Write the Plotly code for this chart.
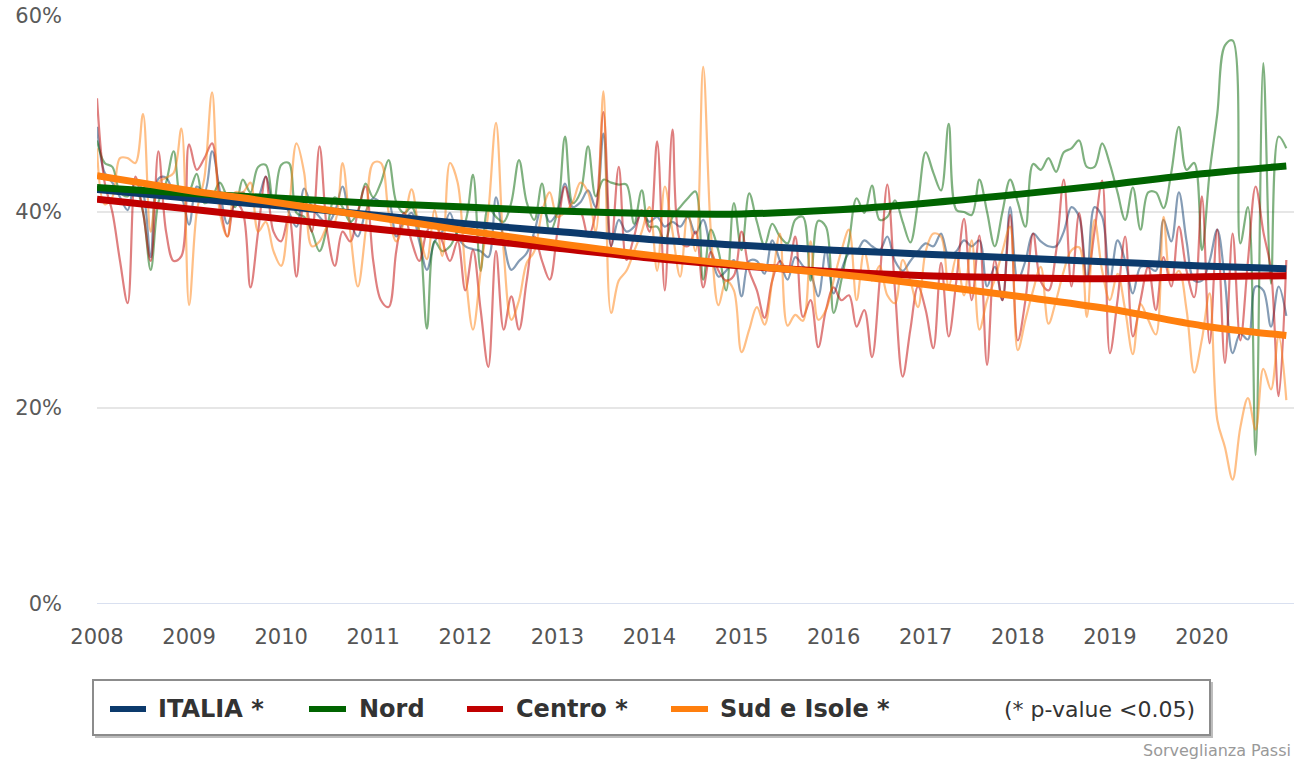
import plotly.graph_objects as go

# ---------------- data (percent, monthly Jan 2008 - Dec 2020) ----------------
start_year = 2008
n_months = 156

italia = [48.7, 44.0, 43.0, 41.5, 40.2, 43.3, 42.0, 35.4, 43.4, 43.5, 42.0, 41.5,
          38.7, 42.6, 42.0, 46.2, 42.2, 38.8, 41.0, 42.0, 41.0, 41.5, 43.6, 40.9,
          41.5, 40.0, 38.5, 42.4, 40.5, 39.5, 38.8, 40.0, 42.6, 39.0, 37.5, 40.0,
          41.4, 41.0, 41.0, 37.5, 39.0, 39.9, 37.0, 34.1, 37.0, 38.0, 39.9, 37.5,
          36.5, 36.2, 36.0, 35.4, 41.5, 37.0, 34.1, 35.0, 35.8, 38.0, 40.5, 39.0,
          40.0, 42.9, 40.5, 41.0, 42.2, 40.5, 48.0, 36.5, 39.2, 38.0, 38.5, 39.9,
          39.0, 39.5, 38.5, 39.0, 38.5, 39.5, 37.8, 39.2, 36.0, 33.4, 34.0, 35.1,
          31.4, 35.0, 35.0, 33.7, 37.1, 35.0, 33.1, 35.4, 34.5, 33.7, 31.4, 36.0,
          31.7, 34.0, 35.8, 36.0, 37.1, 36.5, 36.1, 37.5, 35.0, 34.0, 35.0, 36.0,
          36.8, 36.5, 37.8, 35.5, 36.0, 37.1, 36.5, 37.1, 32.4, 34.4, 31.0, 40.5,
          33.1, 35.0, 37.8, 37.0, 36.5, 36.5, 38.0, 40.5, 39.5, 33.0, 40.5, 39.5,
          33.0, 37.1, 35.0, 31.7, 34.4, 34.4, 34.0, 39.2, 37.0, 42.0, 37.0, 33.0,
          33.0, 35.0, 38.2, 33.0, 25.6, 27.6, 27.0, 32.4, 32.0, 28.3, 32.4, 29.4]

nord = [47.3, 45.0, 44.6, 42.0, 41.6, 42.5, 40.0, 34.1, 41.0, 43.0, 46.2, 41.2,
        42.0, 43.9, 40.9, 41.5, 43.0, 41.5, 40.5, 43.3, 42.0, 44.6, 44.8, 40.5,
        44.8, 45.0, 39.9, 39.5, 38.0, 36.0, 38.5, 41.5, 40.5, 39.0, 40.0, 42.9,
        41.5, 43.0, 45.3, 41.0, 39.9, 40.5, 38.0, 28.1, 37.0, 36.0, 36.5, 38.0,
        39.0, 43.8, 34.0, 40.5, 39.5, 39.0, 41.0, 45.3, 41.0, 39.2, 42.9, 38.0,
        40.0, 47.7, 40.9, 42.0, 46.7, 41.6, 43.3, 43.0, 42.8, 42.8, 38.8, 42.2,
        38.5, 38.5, 37.0, 39.5, 40.5, 41.4, 42.1, 33.1, 38.2, 36.0, 32.0, 40.9,
        36.1, 41.9, 39.0, 36.6, 38.8, 37.5, 36.8, 39.2, 39.5, 33.0, 39.1, 38.5,
        29.7, 33.0, 37.0, 41.4, 39.9, 42.7, 39.2, 39.5, 41.2, 39.0, 36.9, 41.0,
        46.1, 44.0, 42.2, 49.0, 40.2, 40.0, 39.7, 43.3, 40.0, 36.5, 40.0, 43.3,
        41.0, 38.5, 44.9, 44.3, 45.5, 44.1, 46.1, 46.5, 47.3, 44.6, 44.6, 47.0,
        44.9, 42.0, 39.2, 42.5, 38.2, 42.0, 42.0, 40.4, 44.0, 48.7, 44.3, 45.0,
        36.1, 44.0, 50.0, 57.0, 57.5, 36.8, 40.5, 15.2, 55.2, 32.7, 47.7, 46.5]

centro = [51.6, 43.0, 40.0, 35.0, 30.7, 43.6, 40.0, 35.0, 46.2, 38.0, 35.0, 35.5,
          46.9, 44.3, 45.5, 47.0, 41.0, 37.5, 41.0, 40.0, 32.3, 38.0, 43.6, 38.0,
          37.0, 39.6, 33.4, 41.5, 38.0, 46.7, 38.0, 34.5, 38.0, 37.0, 40.0, 42.6,
          35.0, 31.0, 30.3, 36.0, 39.9, 37.0, 35.0, 38.0, 39.0, 37.0, 35.0, 37.0,
          32.0, 36.1, 30.0, 24.2, 36.0, 28.0, 31.4, 28.0, 33.0, 37.5, 35.0, 33.1,
          38.0, 42.6, 40.0, 40.0, 37.5, 40.0, 50.2, 36.5, 44.6, 35.1, 37.5, 40.2,
          38.0, 47.2, 32.0, 48.4, 37.1, 36.5, 38.0, 32.3, 35.9, 34.0, 33.0, 33.5,
          38.0, 34.0, 32.0, 29.2, 33.0, 35.0, 34.0, 37.5, 29.3, 31.0, 26.2, 30.0,
          32.3, 31.0, 31.5, 28.3, 30.0, 25.2, 33.0, 42.8, 32.0, 23.2, 28.0, 32.4,
          30.0, 26.1, 34.8, 27.3, 33.0, 39.3, 31.0, 37.6, 24.4, 35.1, 31.0, 39.7,
          26.9, 31.0, 37.8, 32.9, 32.0, 36.0, 43.3, 32.4, 39.9, 33.0, 38.0, 43.2,
          25.6, 31.0, 37.5, 27.3, 31.0, 34.4, 30.0, 35.4, 32.4, 38.5, 34.0, 31.3,
          41.6, 26.6, 38.2, 24.6, 37.8, 26.9, 35.0, 42.6, 38.0, 34.1, 21.2, 35.1]

sud = [46.5, 40.8, 41.5, 45.5, 45.5, 45.0, 50.0, 38.0, 43.0, 43.5, 44.0, 48.5,
       30.5, 40.0, 43.5, 52.2, 40.0, 37.5, 42.0, 42.0, 43.0, 38.0, 39.0, 36.0,
       34.5, 40.0, 47.0, 44.0, 36.5, 37.0, 38.5, 39.0, 45.0, 38.0, 32.4, 38.0,
       45.0, 45.0, 40.0, 37.0, 39.0, 42.3, 38.0, 35.2, 40.2, 35.5, 45.0, 43.0,
       34.0, 28.0, 34.0, 40.0, 49.1, 36.0, 29.0, 31.0, 34.8, 36.0, 40.0, 42.0,
       39.5, 40.0, 41.0, 43.0, 42.0, 38.0, 52.3, 29.7, 33.0, 34.0, 36.0, 38.0,
       40.5, 34.0, 42.6, 38.0, 33.4, 40.0, 36.0, 54.8, 38.0, 30.5, 33.0, 32.0,
       25.7, 28.0, 30.3, 28.5, 33.0, 37.8, 28.4, 29.5, 28.9, 37.0, 29.0, 30.0,
       33.0, 36.0, 38.2, 31.0, 36.0, 33.0, 34.5, 31.5, 30.7, 35.1, 33.0, 30.3,
       36.0, 37.8, 37.5, 32.4, 35.4, 31.5, 37.1, 28.0, 31.0, 33.1, 36.0, 38.5,
       25.9, 29.0, 32.0, 34.4, 28.6, 31.0, 34.0, 36.1, 36.4, 29.3, 39.2, 34.0,
       31.0, 33.7, 30.0, 25.5, 30.6, 29.0, 27.5, 39.5, 33.0, 34.0, 30.0, 23.6,
       27.0, 31.7, 18.8, 16.0, 12.7, 18.0, 21.0, 17.8, 24.0, 21.9, 27.3, 20.8]

# trend lines, read at each January + last month
trend_x = [2008, 2009, 2010, 2011, 2012, 2013, 2014, 2015, 2016, 2017, 2018, 2019, 2020, 2020 + 11 / 12]
trend_italia = [42.3, 41.4, 40.6, 39.7, 38.8, 38.0, 37.2, 36.6, 36.1, 35.7, 35.3, 34.9, 34.5, 34.2]
trend_nord = [42.5, 41.9, 41.4, 40.9, 40.5, 40.1, 39.85, 39.8, 40.2, 40.9, 41.8, 42.8, 43.9, 44.7]
trend_centro = [41.3, 40.3, 39.3, 38.3, 37.3, 36.3, 35.3, 34.5, 33.9, 33.5, 33.3, 33.2, 33.4, 33.5]
trend_sud = [43.7, 42.2, 40.9, 39.5, 38.1, 36.8, 35.6, 34.6, 33.7, 32.6, 31.4, 30.1, 28.4, 27.4]

names = ["ITALIA *", "Nord", "Centro *", "Sud e Isole *"]
colors = ["#0c3a6c", "#006400", "#c00000", "#ff7f0e"]
thin_colors = ["rgba(12,58,108,0.5)", "rgba(0,100,0,0.5)", "rgba(192,0,0,0.5)", "rgba(255,127,14,0.5)"]
year_ticks = list(range(2008, 2021))
y_ticks = [0, 20, 40, 60]
y_labels = ["%d%%" % v for v in y_ticks]
note_text = "(* p-value <0.05)"
credit_text = "Sorveglianza Passi"

# ---------------- figure ----------------
W, H = 1297, 761
ML, MR, MT, MB = 97, 3, 16, 157
PW, PH = W - ML - MR, H - MT - MB

def xp(px):
    return (px - ML) / PW

def yp(py):
    return (MT + PH - py) / PH

months_x = [start_year + i / 12 for i in range(n_months)]
series = [italia, nord, centro, sud]
trends = [trend_italia, trend_nord, trend_centro, trend_sud]

fig = go.Figure()
for s, c, nm in zip(series, thin_colors, names):
    fig.add_trace(go.Scatter(x=months_x, y=s, mode="lines", name=nm,
                             line=dict(color=c, width=2.2, shape="spline", smoothing=1.0),
                             showlegend=False, hoverinfo="skip"))
for t, c, nm in zip(trends, colors, names):
    fig.add_trace(go.Scatter(x=trend_x, y=t, mode="lines", name=nm,
                             line=dict(color=c, width=7, shape="spline", smoothing=1.0),
                             showlegend=False))

FONT = "DejaVu Sans"
fig.update_layout(
    width=W, height=H,
    margin=dict(l=ML, r=MR, t=MT, b=MB),
    paper_bgcolor="white", plot_bgcolor="white",
    font=dict(family=FONT, color="#555555"),
    xaxis=dict(range=[2008, 2021], tickvals=year_ticks, ticktext=[str(y) for y in year_ticks],
               showgrid=False, zeroline=False, showline=False, ticks="",
               tickfont=dict(size=21, color="#555555"), ticklabelstandoff=18),
    yaxis=dict(range=[0, 60], tickvals=y_ticks, ticktext=y_labels, showgrid=True,
               gridcolor="#e6e6e6", gridwidth=1.5, zeroline=False, showline=False, ticks="",
               tickfont=dict(size=21, color="#5a5a5a"), ticklabelstandoff=34),
    showlegend=False,
)

shapes = []
# x axis line at 0%
shapes.append(dict(type="line", xref="paper", yref="y", x0=0, x1=1, y0=0, y1=0,
                   line=dict(color="#ccd6eb", width=1.5), layer="below"))
# legend box with shadow
bx0, bx1, by0, by1 = 93, 1210, 680, 735
shapes.append(dict(type="rect", xref="paper", yref="paper", x0=xp(bx0 + 2), x1=xp(bx1 + 3),
                   y0=yp(by0 + 2), y1=yp(by1 + 3), fillcolor="#bdbdbd", line=dict(width=0)))
shapes.append(dict(type="rect", xref="paper", yref="paper", x0=xp(bx0), x1=xp(bx1),
                   y0=yp(by0), y1=yp(by1), fillcolor="white", line=dict(color="#8c8c8c", width=2)))
sw = [(110, 146), (309, 346), (467, 503), (671, 708)]
tx = [156, 357, 514, 718]
ly = 709
annotations = []
for (a, b), t, c, nm in zip(sw, tx, colors, names):
    shapes.append(dict(type="line", xref="paper", yref="paper", x0=xp(a), x1=xp(b),
                       y0=yp(ly), y1=yp(ly), line=dict(color=c, width=6)))
    annotations.append(dict(xref="paper", yref="paper", x=xp(t), y=yp(ly), text="<b>%s</b>" % nm,
                            showarrow=False, xanchor="left", yanchor="middle",
                            font=dict(family=FONT, size=24, color="#333333")))
annotations.append(dict(xref="paper", yref="paper", x=xp(1197), y=yp(ly), text=note_text,
                        showarrow=False, xanchor="right", yanchor="middle",
                        font=dict(family=FONT, size=22, color="#333333")))
annotations.append(dict(xref="paper", yref="paper", x=xp(1293), y=yp(750), text=credit_text,
                        showarrow=False, xanchor="right", yanchor="middle",
                        font=dict(family=FONT, size=16, color="#999999")))
fig.update_layout(shapes=shapes, annotations=annotations)

fig.write_html("out.html", config={"displayModeBar": False},
               post_script="document.body.style.margin='0px';document.body.style.overflow='hidden';")
